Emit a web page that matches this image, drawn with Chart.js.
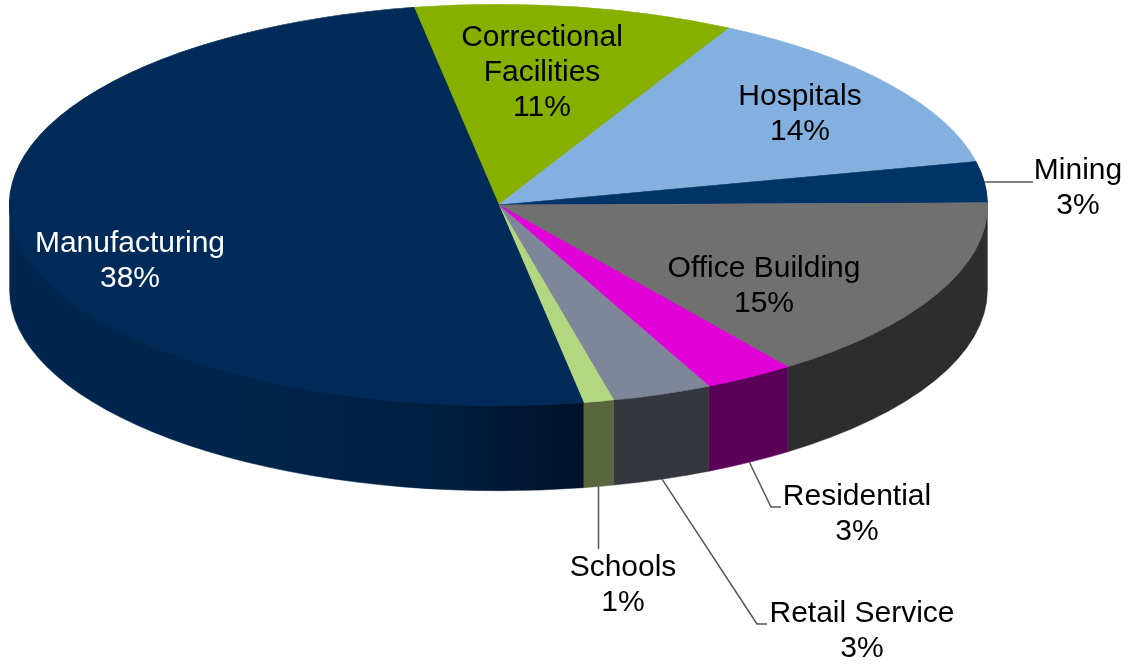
<!DOCTYPE html>
<html>
<head>
<meta charset="utf-8">
<style>html,body{margin:0;padding:0;background:#fff}canvas{display:block}</style>
<script src="https://cdn.jsdelivr.net/npm/chart.js@4"></script>
</head>
<body>
<canvas id="c" width="1129" height="664"></canvas>
<script>
// Categories, clockwise from the top of the pie
const categories = ['Correctional\nFacilities','Hospitals','Mining','Office Building','Residential','Retail Service','Schools','Manufacturing'];
// Percentages printed on the labels
const printedPercent = [11,14,3,15,3,3,1,38];
// Share of the circle each slice really occupies in the picture
const drawnShare = [10.6,13.7,3.3,15.1,3.0,3.3,1.0,50.0];
const topColors = ['#86AF00','#83B0DF','#003366','#707070','#E000D8','#7F8699','#B3D680','#002B59'];
const wallColors = [null,null,null,'#2D2D2D','#5A0058','#35373F','#5A663D',null];

const ROT = -10, SX = 489.5/201, DEPTH = 85;
const FONT = '30px "Liberation Sans", Arial, sans-serif';
const labelSpec = [
 {x:542,y:38,color:'#000'},{x:800,y:97,color:'#000'},{x:1078,y:171,color:'#000'},
 {x:764,y:269,color:'#000'},{x:857,y:497,color:'#000'},{x:862,y:614,color:'#000'},
 {x:623,y:568,color:'#000'},{x:130,y:244,color:'#fff'}];
const LINE_H = 35;
// leader elbows, per slice index
const leaders = {2:{atWall:false,pts:[[1033,182]]},4:{atWall:true,pts:[[771,507],[781,507]]},5:{atWall:true,pts:[[757,624],[767,624]]},6:{atWall:true,pts:[[598.5,549]]}};

const pie3d = {
  id:'pie3d',
  beforeDatasetDraw(chart,args){
    const ctx = chart.ctx, arcs = args.meta.data, cx = arcs[0].x, cy = arcs[0].y, ry = arcs[0].outerRadius, rx = ry*SX;
    arcs.forEach((a,i)=>{
      const wall = wallColors[i];
      const s = Math.max(a.startAngle,0), e = Math.min(a.endAngle,Math.PI);
      if(e<=s) return;
      ctx.beginPath();
      // the top edge of the wall starts a little higher, so the top face covers it with no light seam
      ctx.ellipse(cx,cy-3,rx,ry,0,s,e,false);
      ctx.ellipse(cx,cy+DEPTH,rx,ry,0,e,s,true);
      ctx.closePath();
      if(wall){ctx.fillStyle=wall;ctx.strokeStyle=wall;}
      else{
        const g = ctx.createLinearGradient(cx-rx,0,cx+rx*0.17,0);
        g.addColorStop(0,'#002650');g.addColorStop(0.45,'#00254B');g.addColorStop(0.8,'#001D3C');g.addColorStop(1,'#00112A');
        ctx.fillStyle=g;ctx.strokeStyle=g;
      }
      ctx.fill();
      ctx.lineWidth=0.5;ctx.stroke();
    });
    ctx.save();
    ctx.translate(cx,cy);ctx.scale(SX,1);ctx.translate(-cx,-cy);
  },
  afterDatasetDraw(chart){chart.ctx.restore();},
  afterDraw(chart){
    const ctx = chart.ctx, arcs = chart.getDatasetMeta(0).data, cx = arcs[0].x, cy = arcs[0].y, ry = arcs[0].outerRadius, rx = ry*SX;
    ctx.save();
    ctx.strokeStyle='#555';ctx.lineWidth=1.5;
    Object.keys(leaders).forEach(k=>{
      const a = arcs[k], m = (a.startAngle+a.endAngle)/2, l = leaders[k];
      ctx.beginPath();
      ctx.moveTo(cx+rx*Math.cos(m), cy+ry*Math.sin(m)+(l.atWall?DEPTH:0));
      l.pts.forEach(p=>ctx.lineTo(p[0],p[1]));
      ctx.stroke();
    });
    ctx.font=FONT;ctx.textAlign='center';ctx.textBaseline='middle';
    categories.forEach((c,i)=>{
      const lines = c.split('\n').concat(printedPercent[i]+'%'), sp = labelSpec[i];
      ctx.fillStyle=sp.color;
      lines.forEach((t,j)=>ctx.fillText(t,sp.x,sp.y+j*LINE_H));
    });
    ctx.restore();
  }
};

new Chart(document.getElementById('c'),{
  type:'pie',
  data:{labels:categories,datasets:[{data:drawnShare,backgroundColor:topColors,borderColor:topColors,borderWidth:0.5,clip:false}]},
  options:{
    responsive:false,animation:false,rotation:ROT,
    layout:{padding:{top:4,left:0,right:132,bottom:258}},
    plugins:{legend:{display:false},tooltip:{enabled:false}}
  },
  plugins:[pie3d]
});
</script>
</body>
</html>
